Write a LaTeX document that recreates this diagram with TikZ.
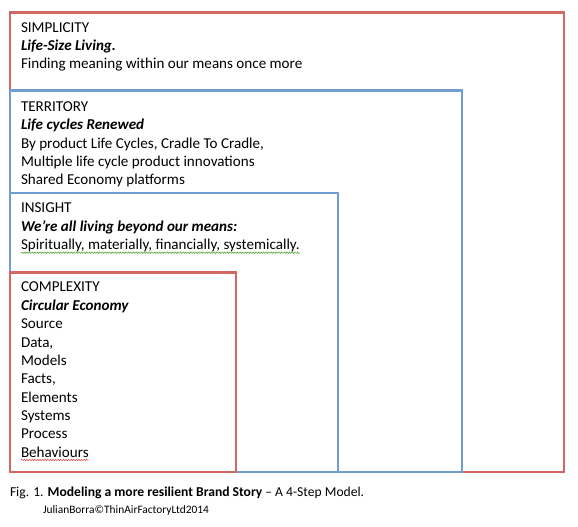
\documentclass[tikz,border=0pt]{standalone}
\usepackage{fontspec}
\setmainfont{Carlito}
\usetikzlibrary{calc,decorations.pathmorphing}
\definecolor{boxred}{RGB}{208,104,100}
\definecolor{boxblue}{RGB}{112,158,210}
\definecolor{spellgreen}{RGB}{90,170,60}
\definecolor{spellred}{RGB}{225,80,80}
\tikzset{
  redbox/.style={draw=boxred,line width=2.2pt},
  bluebox/.style={draw=boxblue,line width=2.2pt},
  txt/.style={anchor=base west,inner sep=0pt,outer sep=0pt,font=\fontsize{15.1}{18}\selectfont},
  figcaption/.style={anchor=base west,inner sep=0pt,outer sep=0pt,font=\fontsize{13.6}{16}\selectfont},
  credit/.style={anchor=base west,inner sep=0pt,outer sep=0pt,font=\fontsize{11.4}{13}\selectfont},
  squiggle/.style={line width=0.6pt,decorate,decoration={snake,amplitude=0.7pt,segment length=2.6pt}}
}
\begin{document}
\begin{tikzpicture}[x=1pt,y=-1pt]
\useasboundingbox (0,0) rectangle (578,527);
% boxes
\coordinate (simpTL) at (10,12.5);
\coordinate (simpBR) at (564,472);
\coordinate (terrTL) at (10,90.5);
\coordinate (terrBR) at (462,472);
\coordinate (insTL) at (10,193);
\coordinate (insBR) at (338,472);
\coordinate (compTL) at (10,272.5);
\coordinate (compBR) at (236,472);
\draw[redbox] (simpTL) rectangle (simpBR);
\draw[bluebox] (terrTL) rectangle (terrBR);
\draw[bluebox] (insTL) rectangle (insBR);
\draw[redbox] (compTL) rectangle (compBR);
% SIMPLICITY
\node[txt] (s1) at (21,32.5) {SIMPLICITY};
\node[txt] (s2) at (21,50.5) {\bfseries\itshape Life-Size Living.};
\node[txt] (s3) at (21,68.5) {Finding meaning within our means once more};
% TERRITORY
\node[txt] (t1) at (21,111) {TERRITORY};
\node[txt] (t2) at (21,129.5) {\bfseries\itshape Life cycles Renewed};
\node[txt] (t3) at (21,148) {By product Life Cycles, Cradle To Cradle,};
\node[txt] (t4) at (21,166) {Multiple life cycle product innovations};
\node[txt] (t5) at (21,184) {Shared Economy platforms};
% INSIGHT
\node[txt] (i1) at (21,212.5) {INSIGHT};
\node[txt] (i2) at (21,231) {\bfseries\itshape We’re all living beyond our means:};
\node[txt] (i3) at (21,249.5) {Spiritually, materially, financially, systemically.};
\draw[squiggle,spellgreen] ($(i3.base west)+(0,3.2)$) -- ($(i3.base east)+(0,3.2)$);
% COMPLEXITY
\node[txt] (c1) at (21,291) {COMPLEXITY};
\node[txt] (c2) at (21,310) {\bfseries\itshape Circular Economy};
\node[txt] (c3) at (21,328.5) {Source};
\node[txt] (c4) at (21,347) {Data,};
\node[txt] (c5) at (21,365) {Models};
\node[txt] (c6) at (21,383.5) {Facts,};
\node[txt] (c7) at (21,402) {Elements};
\node[txt] (c8) at (21,420) {Systems};
\node[txt] (c9) at (21,438.5) {Process};
\node[txt] (c10) at (21,457) {Behaviours};
\draw[squiggle,spellred] ($(c10.base west)+(0,3)$) -- ($(c10.base east)+(0,3)$);
% caption
\node[figcaption] (fig) at (10,496.5) {Fig. 1. \textbf{Modeling a more resilient Brand Story} – A 4-Step Model.};
\node[credit] (cr) at (43,513) {JulianBorra©ThinAirFactoryLtd2014};
\end{tikzpicture}
\end{document}
